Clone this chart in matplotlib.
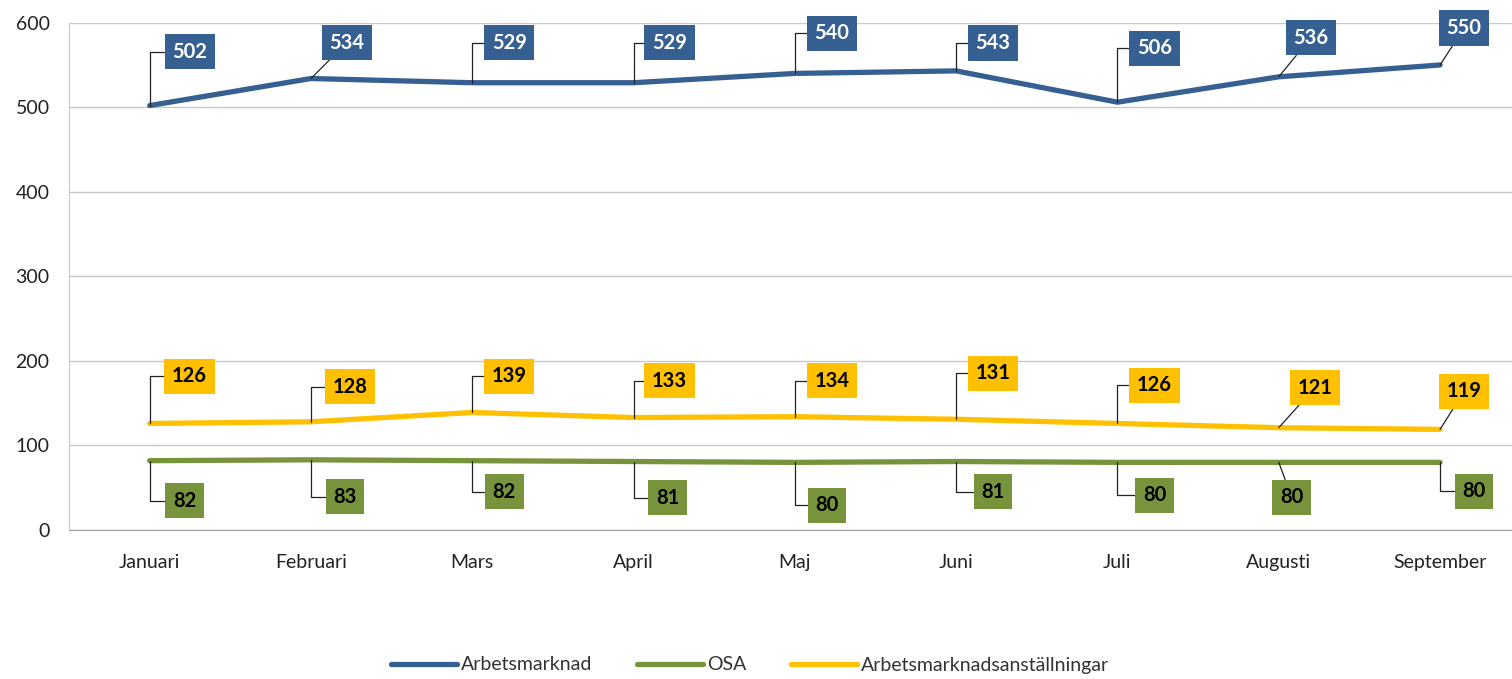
import matplotlib.pyplot as plt

months = ['Januari', 'Februari', 'Mars', 'April', 'Maj', 'Juni', 'Juli', 'Augusti', 'September']
arbetsmarknad = [502, 534, 529, 529, 540, 543, 506, 536, 550]
osa = [82, 83, 82, 81, 80, 81, 80, 80, 80]
anstallningar = [126, 128, 139, 133, 134, 131, 126, 121, 119]

# label box offsets in pixels (box centre relative to point), and leader style
blue_off = [(40, 54), (36, 36), (37, 40), (36, 40), (37, 40), (37, 28), (37, 54), (32, 39), (24, 37)]
yellow_off = [(40, 47), (39, 35), (37, 36), (36, 37), (37, 36), (37, 46), (37, 38), (36, 40), (24, 38)]
green_off = [(35, -40), (34, -37), (32, -31), (34, -36), (32, -43), (37, -30), (37, -33), (13, -35), (34, -29)]
blue_diag = [False, True, False, False, False, False, False, True, True]
yellow_diag = [False, False, False, False, False, False, False, True, True]
green_diag = [False, False, False, False, False, False, False, True, False]

plt.rcParams['font.family'] = ['Lato', 'DejaVu Sans']

fig = plt.figure(figsize=(15.12, 6.79), dpi=100)
ax = fig.add_axes([69 / 1512, 149 / 679, 1443 / 1512, 507.3 / 679])

blue, green, yellow = '#376092', '#77933C', '#FFC000'
x = range(len(months))
ax.plot(x, arbetsmarknad, color=blue, lw=3.8, label='Arbetsmarknad', solid_capstyle='round')
ax.plot(x, osa, color=green, lw=3.8, label='OSA', solid_capstyle='round')
ax.plot(x, anstallningar, color=yellow, lw=3.8, label='Arbetsmarknadsanställningar', solid_capstyle='round')


def add_labels(values, offsets, diag, face, txtcol):
    for i, v in enumerate(values):
        cs = 'arc3' if diag[i] else 'angle,angleA=0,angleB=90,rad=0'
        ax.annotate(str(v), xy=(i, v), xytext=offsets[i], textcoords='offset pixels',
                    ha='center', va='center', fontsize=14.5, fontweight='bold', color=txtcol,
                    bbox=dict(boxstyle='square,pad=0.38', fc=face, ec='none'),
                    arrowprops=dict(arrowstyle='-', color='#222222', lw=0.9,
                                    connectionstyle=cs, shrinkA=0, shrinkB=0),
                    zorder=5)


add_labels(arbetsmarknad, blue_off, blue_diag, blue, 'white')
add_labels(anstallningar, yellow_off, yellow_diag, yellow, 'black')
add_labels(osa, green_off, green_diag, green, 'black')

ax.set_xlim(-0.5, 8.446)
ax.set_ylim(0, 600)
ax.set_yticks(range(0, 601, 100))
ax.set_xticks(list(x))
ax.set_xticklabels(months)
ax.grid(axis='y', color='#c8c8c8', lw=1)
ax.set_axisbelow(True)
ax.tick_params(length=0, labelsize=14, colors='#222222')
ax.tick_params(axis='x', pad=17)
ax.tick_params(axis='y', pad=14)
for s in ['top', 'right']:
    ax.spines[s].set_visible(False)
ax.spines['left'].set_color('#c8c8c8')
ax.spines['bottom'].set_color('#a0a0a0')

fig.legend(loc='center', bbox_to_anchor=(750 / 1512, 1 - 665 / 679), ncol=3, frameon=False,
           fontsize=14, handlelength=3.4, handletextpad=0.2, columnspacing=2.3,
           labelcolor='#333333')

fig.savefig('out.png', dpi=100)
